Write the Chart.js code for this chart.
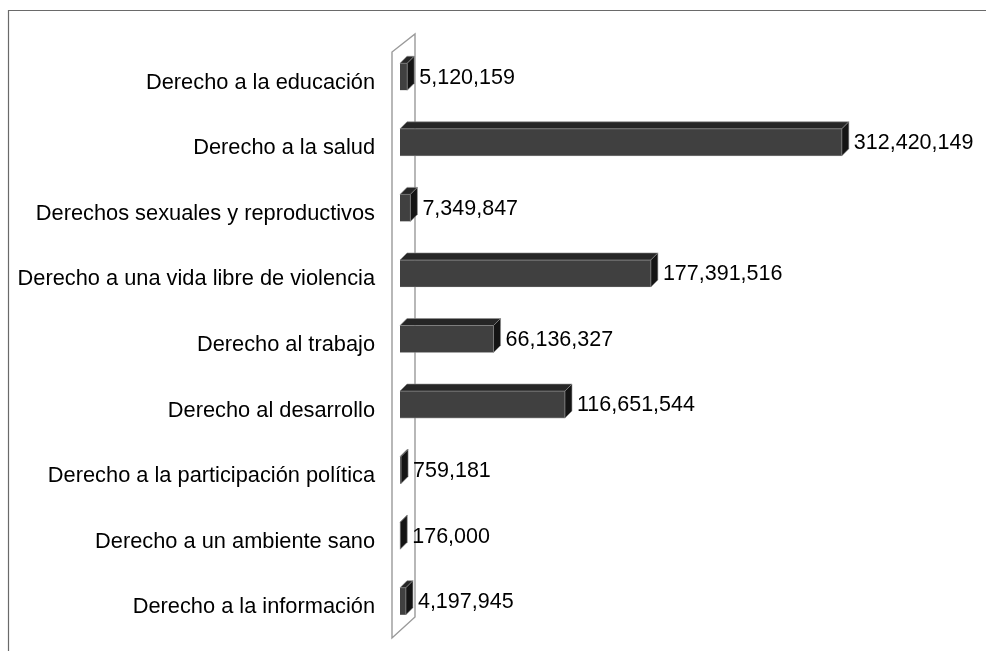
<!DOCTYPE html>
<html>
<head>
<meta charset="utf-8">
<script src="https://cdn.jsdelivr.net/npm/chart.js@4.4.1/dist/chart.umd.min.js"></script>
<style>
  html, body { margin: 0; padding: 0; background: #fff; }
  #wrap { position: relative; width: 986px; height: 651px; }
</style>
</head>
<body>
<div id="wrap"><canvas id="chart"></canvas></div>
<script>
const CATEGORIES = [
  'Derecho a la educación',
  'Derecho a la salud',
  'Derechos sexuales y reproductivos',
  'Derecho a una vida libre de violencia',
  'Derecho al trabajo',
  'Derecho al desarrollo',
  'Derecho a la participación política',
  'Derecho a un ambiente sano',
  'Derecho a la información'
];
const AMOUNTS = [5120159, 312420149, 7349847, 177391516, 66136327, 116651544, 759181, 176000, 4197945];
const AXIS_MAX = 350000000;

const FONT = '"Liberation Sans", Arial, sans-serif';
const DEPTH = 7;

// frame lines + the 3d back wall
const wallPlugin = {
  id: 'wall',
  beforeDatasetsDraw(chart) {
    const ctx = chart.ctx;
    const a = chart.chartArea;
    ctx.save();
    ctx.strokeStyle = '#6a6a6a';
    ctx.lineWidth = 1.2;
    ctx.beginPath();
    ctx.moveTo(8.5, chart.height);
    ctx.lineTo(8.5, 10.5);
    ctx.lineTo(chart.width, 10.5);
    ctx.stroke();

    const l = a.left - 8, r = a.left + 15;
    ctx.strokeStyle = '#9a9a9a';
    ctx.lineWidth = 1.4;
    ctx.beginPath();
    ctx.moveTo(l, a.bottom + 4);
    ctx.lineTo(l, a.top + 8);
    ctx.lineTo(r, a.top - 10);
    ctx.lineTo(r, a.bottom - 17);
    ctx.closePath();
    ctx.stroke();
    ctx.restore();
  }
};

// top and side faces of each bar, then the value labels
const boxPlugin = {
  id: 'box3d',
  afterDatasetsDraw(chart) {
    const ctx = chart.ctx;
    const meta = chart.getDatasetMeta(0);
    ctx.save();
    meta.data.forEach((bar, i) => {
      const p = bar.getProps(['x', 'y', 'base', 'height'], true);
      const top = p.y - p.height / 2;
      const bot = p.y + p.height / 2;
      // top face
      ctx.fillStyle = '#262626';
      ctx.strokeStyle = '#8e8e8e';
      ctx.lineWidth = 0.6;
      ctx.beginPath();
      ctx.moveTo(p.base, top);
      ctx.lineTo(p.base + DEPTH, top - DEPTH);
      ctx.lineTo(p.x + DEPTH, top - DEPTH);
      ctx.lineTo(p.x, top);
      ctx.closePath();
      ctx.fill();
      ctx.stroke();
      // right face
      ctx.fillStyle = '#141414';
      ctx.beginPath();
      ctx.moveTo(p.x, top);
      ctx.lineTo(p.x + DEPTH, top - DEPTH);
      ctx.lineTo(p.x + DEPTH, bot - DEPTH);
      ctx.lineTo(p.x, bot);
      ctx.closePath();
      ctx.fill();
      ctx.stroke();

      ctx.fillStyle = '#000';
      ctx.font = '21.5px ' + FONT;
      ctx.textAlign = 'left';
      ctx.textBaseline = 'middle';
      ctx.fillText(AMOUNTS[i].toLocaleString('en-US'), p.x + DEPTH + 5, p.y + 1);
    });
    ctx.restore();
  }
};

new Chart(document.getElementById('chart'), {
  type: 'bar',
  data: {
    labels: CATEGORIES,
    datasets: [{
      data: AMOUNTS,
      backgroundColor: '#404040',
      borderColor: '#8e8e8e',
      borderWidth: 0.6,
      barThickness: 27
    }]
  },
  options: {
    indexAxis: 'y',
    responsive: true,
    maintainAspectRatio: false,
    animation: false,
    layout: { padding: { left: 0, top: 44, right: 91, bottom: 17 } },
    plugins: {
      legend: { display: false },
      tooltip: { enabled: false }
    },
    scales: {
      x: { display: false, min: 0, max: AXIS_MAX },
      y: {
        grid: { display: false, drawTicks: false },
        border: { display: false },
        ticks: {
          color: '#000',
          font: { family: FONT, size: 21.8 },
          padding: 25,
          labelOffset: 6
        },
        afterFit(scale) {
          scale.width = 400;
          scale.paddingTop = 0;
          scale.paddingBottom = 0;
        }
      }
    }
  },
  plugins: [wallPlugin, boxPlugin]
});
</script>
</body>
</html>
